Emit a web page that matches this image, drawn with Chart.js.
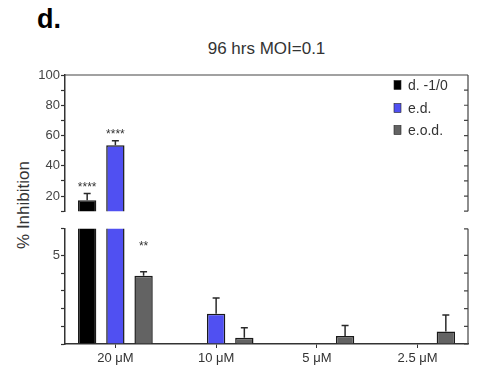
<!DOCTYPE html>
<html>
<head>
<meta charset="utf-8">
<script src="https://cdn.jsdelivr.net/npm/chart.js@4/dist/chart.umd.min.js"></script>
<style>
  html, body { margin:0; padding:0; background:#fff; }
  #wrap { position:relative; width:478px; height:371px; overflow:hidden; font-family:"Liberation Sans", Arial, sans-serif; }
  #panel { position:absolute; left:37px; top:4px; font-size:27px; font-weight:bold; color:#000; }
  #title { position:absolute; left:65px; width:403px; top:39px; text-align:center; font-size:17px; color:#333; }
  #ytitle { position:absolute; left:24px; top:205px; transform:translate(-50%,-50%) rotate(-90deg); font-size:17px; color:#333; white-space:nowrap; }
  #c1wrap { position:absolute; left:0; top:64px; width:478px; height:156px; }
  #c2wrap { position:absolute; left:0; top:220px; width:478px; height:151px; }
</style>
</head>
<body>
<div id="wrap">
  <div id="panel">d.</div>
  <div id="title">96 hrs MOI=0.1</div>
  <div id="ytitle">% Inhibition</div>
  <div id="c1wrap"><canvas id="c1"></canvas></div>
  <div id="c2wrap"><canvas id="c2"></canvas></div>
</div>
<script>
// ---- data ----
const categories = ['20 \u03BCM', '10 \u03BCM', '5 \u03BCM', '2.5 \u03BCM'];
const seriesNames = ['d. -1/0', 'e.d.', 'e.o.d.'];
const d10Values  = [17.3, 0, 0, 0];
const edValues   = [53.5, 1.7, 0, 0];
const eodValues  = [3.85, 0.35, 0.45, 0.7];
const d10Errors  = [4.4, 0, 0, 0];
const edErrors   = [3.1, 0.9, 0, 0];
const eodErrors  = [0.22, 0.57, 0.6, 0.93];
const d10Stars   = ['****', '', '', ''];
const edStars    = ['****', '', '', ''];
const eodStars   = ['**', '', '', ''];
const topTickLabels = [20, 40, 60, 80, 100];
const bottomTickLabels = [5];

const colors = ['#000000', '#5050f2', '#636363'];
const FONT = '"Liberation Sans", Arial, sans-serif';
const seriesValues = [d10Values, edValues, eodValues];
const seriesErrors = [d10Errors, edErrors, eodErrors];
const seriesStars = [d10Stars, edStars, eodStars];

function makeDatasets(minVal) {
  return seriesValues.map((vals, i) => ({
    label: seriesNames[i],
    data: vals.map(v => (v > minVal ? v : null)),
    backgroundColor: colors[i],
    borderColor: '#1a1a1a',
    borderWidth: 1.5,
    borderSkipped: 'bottom',
    categoryPercentage: 0.84,
    barPercentage: 0.65,
    errors: seriesErrors[i],
    stars: seriesStars[i]
  }));
}

const errorBarPlugin = {
  id: 'errorBars',
  afterDatasetsDraw(chart, args, opts) {
    const ctx = chart.ctx, area = chart.chartArea, y = chart.scales.y;
    ctx.save();
    ctx.beginPath();
    ctx.rect(area.left, area.top - 1, area.right - area.left, area.bottom - area.top + 1);
    ctx.clip();
    chart.data.datasets.forEach((ds, di) => {
      const meta = chart.getDatasetMeta(di);
      meta.data.forEach((bar, i) => {
        const v = seriesValues[di][i], e = ds.errors[i];
        if (!e || v === null) return;
        const x = bar.x;
        const y0 = y.getPixelForValue(v);
        const y1 = y.getPixelForValue(v + e);
        ctx.strokeStyle = '#2a2a2a';
        ctx.lineWidth = 1.5;
        ctx.beginPath();
        ctx.moveTo(x, y0); ctx.lineTo(x, y1);
        ctx.moveTo(x - 3.5, y1); ctx.lineTo(x + 3.5, y1);
        ctx.stroke();
      });
    });
    ctx.restore();
    // stars
    ctx.save();
    ctx.font = '12px ' + FONT;
    ctx.fillStyle = '#333';
    ctx.textAlign = 'center';
    ctx.textBaseline = 'middle';
    chart.data.datasets.forEach((ds, di) => {
      const meta = chart.getDatasetMeta(di);
      meta.data.forEach((bar, i) => {
        const s = ds.stars[i];
        if (!s) return;
        const v = seriesValues[di][i] + (ds.errors[i] || 0);
        const py = y.getPixelForValue(v) - opts.starOffset;
        if (py < area.top - 2 || py > area.bottom) return;
        ctx.fillText(s, bar.x, py + 2);
      });
    });
    ctx.restore();
  }
};

const framePlugin = {
  id: 'frame',
  afterDraw(chart, args, opts) {
    const ctx = chart.ctx, area = chart.chartArea, y = chart.scales.y;
    ctx.save();
    ctx.strokeStyle = '#444';
    ctx.lineWidth = 1.2;
    ctx.beginPath();
    ctx.moveTo(area.right, area.top); ctx.lineTo(area.right, area.bottom);
    if (opts.topLine) { ctx.moveTo(area.left, area.top); ctx.lineTo(area.right, area.top); }
    y.ticks.forEach(t => {
      const py = y.getPixelForValue(t.value);
      ctx.moveTo(area.right - 4, py); ctx.lineTo(area.right, py);
    });
    ctx.stroke();
    ctx.restore();
  }
};

const legendPlugin = {
  id: 'insideLegend',
  afterDraw(chart, args, opts) {
    if (!opts.show) return;
    const ctx = chart.ctx, area = chart.chartArea;
    ctx.save();
    ctx.font = '14px ' + FONT;
    ctx.textBaseline = 'middle';
    ctx.textAlign = 'left';
    const rows = [10, 33, 55];
    seriesNames.forEach((name, i) => {
      const cy = area.top + rows[i];
      ctx.fillStyle = colors[i];
      ctx.fillRect(area.right - 74, cy - 4.5, 7, 9);
      ctx.strokeStyle = '#222';
      ctx.lineWidth = 0.6;
      ctx.strokeRect(area.right - 74, cy - 4.5, 7, 9);
      ctx.fillStyle = '#333';
      ctx.fillText(name, area.right - 60, cy + 1);
    });
    ctx.restore();
  }
};

function yAxis(min, max, labels) {
  return {
    min: min, max: max,
    afterFit(s) { s.width = 65; },
    ticks: {
      stepSize: (max > 50 ? 10 : 1),
      autoSkip: false,
      padding: 1,
      color: '#444',
      font: { family: FONT, size: 13 },
      callback: (v) => (labels.includes(v) ? String(v) : '')
    },
    grid: { display: true, drawOnChartArea: false, drawTicks: true, tickLength: 4, color: '#333', tickWidth: 1.2 },
    border: { display: true, color: '#333', width: 1.5 }
  };
}

Chart.defaults.font.family = FONT;
Chart.defaults.animation = false;

new Chart(document.getElementById('c1'), {
  type: 'bar',
  data: { labels: categories, datasets: makeDatasets(10) },
  options: {
    responsive: true, maintainAspectRatio: false, animation: false,
    layout: { padding: { top: 11, bottom: 4, left: 0, right: 10 } },
    scales: {
      x: { display: false },
      y: yAxis(10, 100, topTickLabels)
    },
    plugins: {
      legend: { display: false }, tooltip: { enabled: false }, title: { display: false },
      errorBars: { starOffset: 8 },
      frame: { topLine: true },
      insideLegend: { show: true }
    }
  },
  plugins: [errorBarPlugin, framePlugin, legendPlugin]
});

new Chart(document.getElementById('c2'), {
  type: 'bar',
  data: { labels: categories, datasets: makeDatasets(-1) },
  options: {
    responsive: true, maintainAspectRatio: false, animation: false,
    layout: { padding: { top: 7, bottom: 0, left: 0, right: 10 } },
    scales: {
      x: {
        afterFit(s) { s.height = 27; },
        ticks: { color: '#333', padding: 3, font: { family: FONT, size: 13 } },
        grid: { display: true, offset: false, drawOnChartArea: false, drawTicks: true, tickLength: 4, color: '#333' },
        border: { display: true, color: '#333', width: 1.5 }
      },
      y: yAxis(0, 6.5, bottomTickLabels)
    },
    plugins: {
      legend: { display: false }, tooltip: { enabled: false }, title: { display: false },
      errorBars: { starOffset: 27 },
      frame: { topLine: false },
      insideLegend: { show: false }
    }
  },
  plugins: [errorBarPlugin, framePlugin, legendPlugin]
});
</script>
</body>
</html>
